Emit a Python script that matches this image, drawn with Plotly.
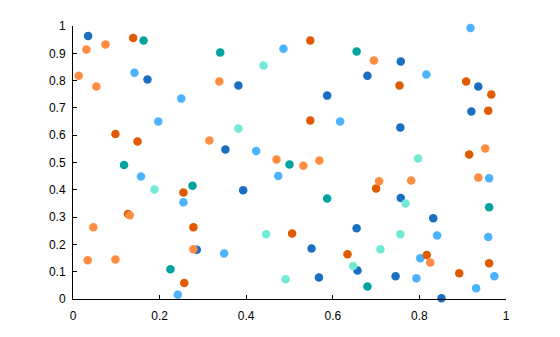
import plotly.graph_objects as go

db_x = [0.035, 0.172, 0.382, 0.587, 0.352, 0.393, 0.655, 0.551, 0.286, 0.657, 0.568, 0.757, 0.680, 0.936, 0.920, 0.756, 0.757, 0.832, 0.745, 0.851]
db_y = [0.963, 0.804, 0.782, 0.745, 0.548, 0.398, 0.259, 0.185, 0.180, 0.104, 0.079, 0.870, 0.818, 0.778, 0.687, 0.628, 0.370, 0.296, 0.083, 0.003]

lb_x = [0.142, 0.250, 0.197, 0.486, 0.617, 0.423, 0.474, 0.349, 0.157, 0.255, 0.242, 0.918, 0.816, 0.961, 0.841, 0.959, 0.802, 0.793, 0.973, 0.931]
lb_y = [0.829, 0.734, 0.650, 0.917, 0.650, 0.542, 0.451, 0.167, 0.449, 0.354, 0.016, 0.993, 0.822, 0.442, 0.233, 0.227, 0.149, 0.076, 0.083, 0.039]

do_x = [0.139, 0.098, 0.149, 0.548, 0.548, 0.506, 0.634, 0.255, 0.127, 0.278, 0.257, 0.754, 0.908, 0.966, 0.959, 0.915, 0.700, 0.817, 0.961, 0.892]
do_y = [0.956, 0.604, 0.577, 0.947, 0.654, 0.240, 0.164, 0.390, 0.311, 0.263, 0.059, 0.782, 0.797, 0.749, 0.690, 0.529, 0.405, 0.161, 0.131, 0.094]

lo_x = [0.031, 0.075, 0.013, 0.054, 0.315, 0.338, 0.470, 0.532, 0.569, 0.131, 0.047, 0.278, 0.034, 0.098, 0.695, 0.952, 0.707, 0.781, 0.936, 0.825]
lo_y = [0.914, 0.932, 0.818, 0.778, 0.581, 0.797, 0.511, 0.488, 0.507, 0.307, 0.263, 0.182, 0.142, 0.145, 0.874, 0.551, 0.431, 0.434, 0.445, 0.134]

te_x = [0.163, 0.118, 0.340, 0.655, 0.500, 0.587, 0.276, 0.225, 0.961, 0.680]
te_y = [0.947, 0.491, 0.903, 0.907, 0.493, 0.368, 0.415, 0.109, 0.336, 0.046]

aq_x = [0.440, 0.382, 0.446, 0.647, 0.491, 0.188, 0.797, 0.768, 0.756, 0.710]
aq_y = [0.855, 0.625, 0.237, 0.121, 0.072, 0.401, 0.515, 0.350, 0.237, 0.182]

series = [
    (db_x, db_y, "#1a6fc2"),
    (lb_x, lb_y, "#4db3ff"),
    (do_x, do_y, "#e05a00"),
    (lo_x, lo_y, "#ff8c40"),
    (te_x, te_y, "#00a3a0"),
    (aq_x, aq_y, "#72ebd6"),
]

x_tick_vals = [0, 0.2, 0.4, 0.6, 0.8, 1]
x_tick_text = ["0", "0.2", "0.4", "0.6", "0.8", "1"]
y_tick_vals = [i / 10 for i in range(11)]
y_tick_text = ["0", "0.1", "0.2", "0.3", "0.4", "0.5", "0.6", "0.7", "0.8", "0.9", "1"]

fig = go.Figure()
for xs, ys, c in series:
    fig.add_trace(go.Scatter(x=xs, y=ys, mode="markers", cliponaxis=False,
                             marker=dict(size=8.5, color=c, line=dict(width=0)),
                             showlegend=False))

axis_common = dict(range=[0, 1], showgrid=False, zeroline=False, showline=True,
                   linecolor="black", linewidth=1, ticks="inside", ticklen=4,
                   tickcolor="black",
                   tickfont=dict(family="Liberation Sans, Arial", size=12, color="black"))

fig.update_layout(
    width=560, height=337,
    margin=dict(l=73, r=54, t=26, b=38),
    plot_bgcolor="white", paper_bgcolor="white",
    xaxis=dict(**axis_common, tickvals=x_tick_vals, ticktext=x_tick_text, ticklabelstandoff=6),
    yaxis=dict(**axis_common, tickvals=y_tick_vals, ticktext=y_tick_text, ticklabelstandoff=4),
)

fig.write_html("out.html")
